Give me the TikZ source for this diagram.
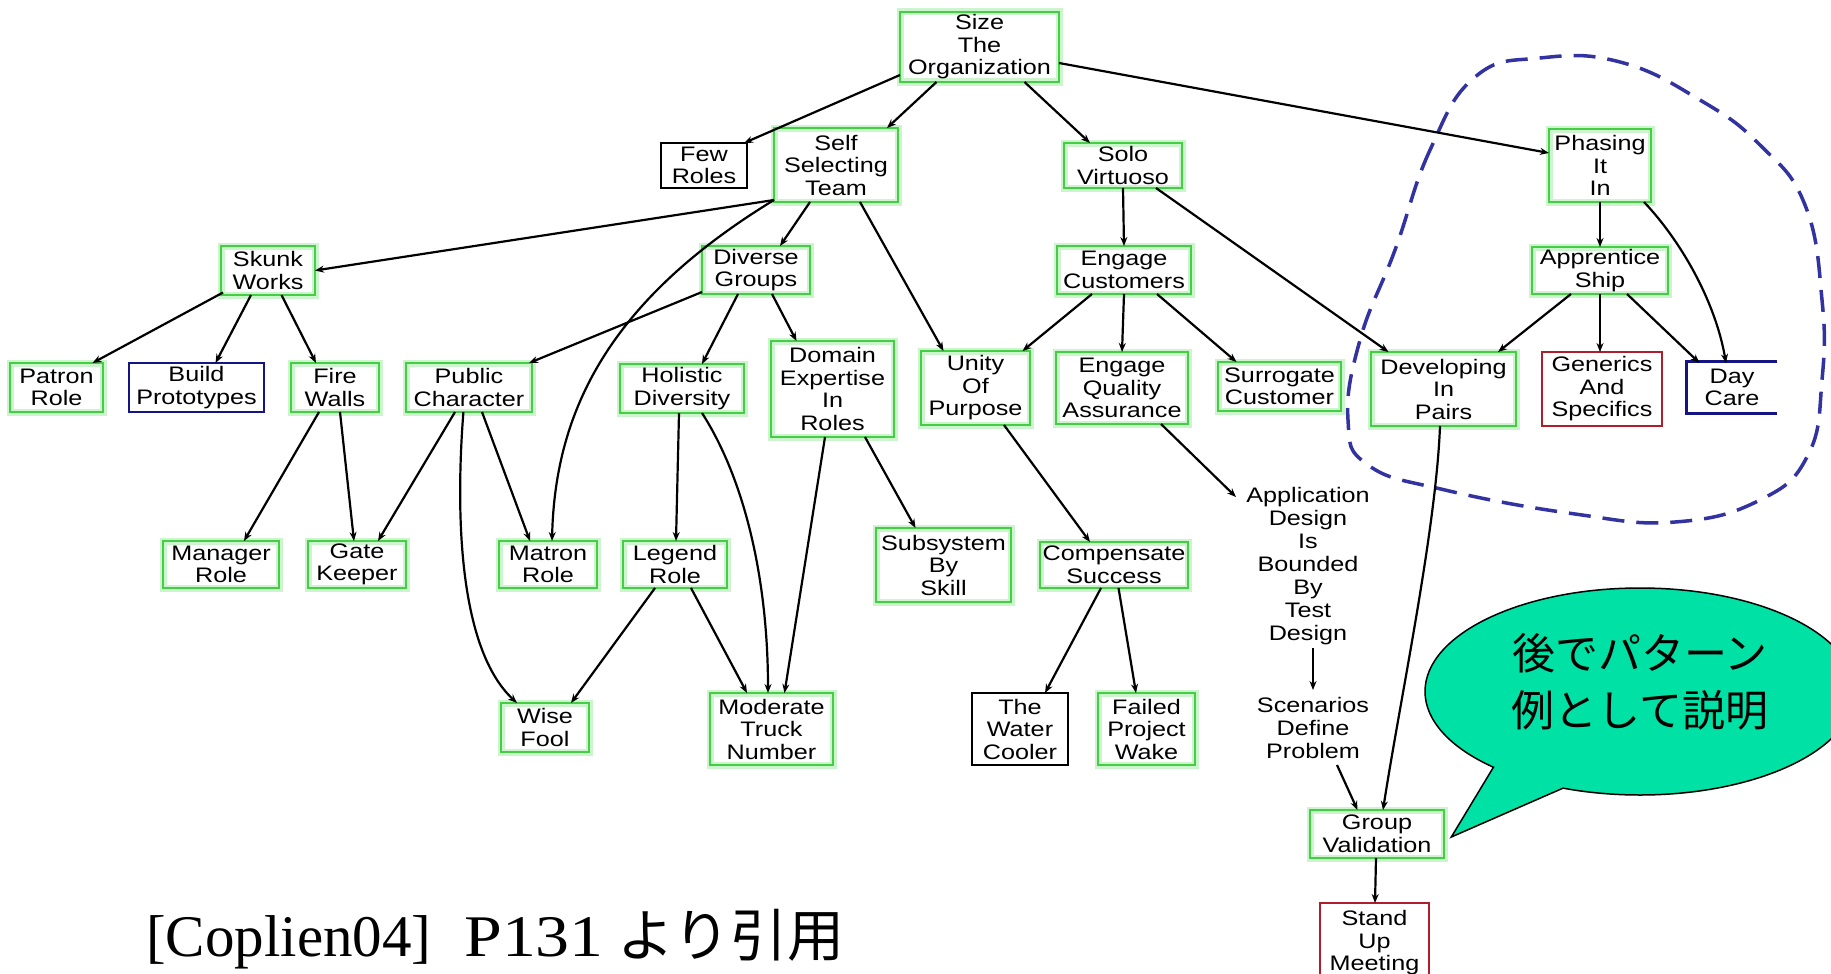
\documentclass[tikz,border=0pt]{standalone}
\usepackage{fontspec}
\usetikzlibrary{arrows.meta,calc,shapes.callouts,shapes.geometric}
\newfontfamily\nodefnt[FakeStretch=1.2]{Liberation Sans}
\newfontfamily\cjkfnt{Noto Sans CJK JP}
\newfontfamily\capfnt{Liberation Serif}
\newfontfamily\capfntw[FakeStretch=1.15]{Liberation Serif}
\definecolor{gbord}{RGB}{70,205,70}
\definecolor{ghalo}{RGB}{205,245,205}
\definecolor{nbord}{RGB}{20,20,130}
\definecolor{rbord}{RGB}{175,30,45}
\definecolor{blobc}{RGB}{50,50,160}
\definecolor{bubblec}{RGB}{0,226,165}
\newcommand\edg[4]{\draw[edge] ($(#1)+(#2)$) -- ($(#3)+(#4)$);}
\begin{document}
\begin{tikzpicture}[x=1pt,y=-1pt,
  box/.style={inner sep=0pt, align=center, font=\nodefnt\fontsize{21}{22.5}\selectfont, line width=2.6pt},
  gbox/.style={box, draw=gbord, preaction={draw=ghalo, line width=7pt}},
  kbox/.style={box, draw=black},
  nbox/.style={box, draw=nbord},
  rbox/.style={box, draw=rbord},
  plainbox/.style={inner sep=0pt, align=center, font=\nodefnt\fontsize{21}{23}\selectfont},
  edge/.style={line width=2.2pt, -{Stealth[length=9pt,width=7pt]}},
]
\fill[white] (0,0) rectangle (1831,974);
\useasboundingbox (0,0) rectangle (1831,974);

% dashed grouping blob
\draw[blobc, line width=3.5pt, dash pattern=on 22pt off 12pt]
  plot[smooth cycle, tension=0.75] coordinates {
  (1475,77) (1430,150) (1395,250) (1360,340) (1348,420) (1368,465)
  (1445,490) (1575,514) (1675,522) (1760,500) (1808,455) (1822,380)
  (1822,300) (1805,205) (1760,145) (1700,100) (1620,62) (1540,58)};

% nodes
\node[gbox, minimum width=159pt, minimum height=70pt] (size) at (979.5,47) {Size\\The\\Organization};
\node[kbox, minimum width=86pt, minimum height=45pt] (fr) at (704,165.5) {Few\\Roles};
\node[gbox, minimum width=124pt, minimum height=74pt] (sst) at (836,165) {Self\\Selecting\\Team};
\node[gbox, minimum width=118pt, minimum height=45pt] (solo) at (1123,165.5) {Solo\\Virtuoso};
\node[gbox, minimum width=102pt, minimum height=73pt] (phase) at (1600,165.5) {Phasing\\It\\In};
\node[gbox, minimum width=94pt, minimum height=49pt] (skunk) at (268,270.5) {Skunk\\Works};
\node[gbox, minimum width=108pt, minimum height=48pt] (dg) at (756,270) {Diverse\\Groups};
\node[gbox, minimum width=134pt, minimum height=48pt] (ec) at (1124,270) {Engage\\Customers};
\node[gbox, minimum width=136pt, minimum height=47pt] (app) at (1600,270.5) {Apprentice\\Ship};
\node[gbox, minimum width=93pt, minimum height=49pt] (patron) at (56.5,387.5) {Patron\\Role};
\node[nbox, minimum width=135pt, minimum height=49pt] (build) at (196.5,387.5) {Build\\Prototypes};
\node[gbox, minimum width=88pt, minimum height=49pt] (fw) at (335,387.5) {Fire\\Walls};
\node[gbox, minimum width=126pt, minimum height=49pt] (pc) at (469,387.5) {Public\\Character};
\node[gbox, minimum width=124pt, minimum height=49pt] (hd) at (682,388.5) {Holistic\\Diversity};
\node[gbox, minimum width=123pt, minimum height=96pt] (de) at (832.5,389) {Domain\\Expertise\\In\\Roles};
\node[gbox, minimum width=109pt, minimum height=74pt] (uop) at (975.5,388) {Unity\\Of\\Purpose};
\node[gbox, minimum width=132pt, minimum height=72pt] (eqa) at (1122,388) {Engage\\Quality\\Assurance};
\node[gbox, minimum width=123pt, minimum height=49pt] (sc) at (1279.5,386.5) {Surrogate\\Customer};
\node[gbox, minimum width=145pt, minimum height=74pt] (dip) at (1443.5,389) {Developing\\In\\Pairs};
\node[rbox, minimum width=120pt, minimum height=74pt] (gas) at (1602,389) {Generics\\And\\Specifics};
\node[box, minimum width=88pt, minimum height=49pt] (dc) at (1732,387.5) {Day\\Care};
\draw[nbord, line width=2.6pt] (dc.north east) -- (dc.north west) -- (dc.south west) -- (dc.south east);
\node[gbox, minimum width=116pt, minimum height=47pt] (mr) at (221,564.5) {Manager\\Role};
\node[gbox, minimum width=98pt, minimum height=47pt] (gk) at (357,564.5) {Gate\\Keeper};
\node[gbox, minimum width=98pt, minimum height=47pt] (matron) at (548,564.5) {Matron\\Role};
\node[gbox, minimum width=104pt, minimum height=47pt] (lr) at (675,564.5) {Legend\\Role};
\node[gbox, minimum width=135pt, minimum height=74pt] (sbs) at (943.5,565) {Subsystem\\By\\Skill};
\node[gbox, minimum width=148pt, minimum height=46pt] (cs) at (1114,565) {Compensate\\Success};
\node[plainbox] (ad) at (1308,566) {Application\\Design\\Is\\Bounded\\By\\Test\\Design};
\node[gbox, minimum width=88pt, minimum height=49pt] (wf) at (545,727.5) {Wise\\Fool};
\node[gbox, minimum width=123pt, minimum height=72pt] (mtn) at (771.5,729) {Moderate\\Truck\\Number};
\node[kbox, minimum width=96pt, minimum height=72pt] (twc) at (1020,729) {The\\Water\\Cooler};
\node[gbox, minimum width=97pt, minimum height=72pt] (fpw) at (1146.5,729) {Failed\\Project\\Wake};
\node[plainbox] (sdp) at (1313,728) {Scenarios\\Define\\Problem};
\node[gbox, minimum width=134pt, minimum height=48pt] (gv) at (1377,834) {Group\\Validation};
\node[rbox, minimum width=109pt, minimum height=80pt] (sum) at (1374.5,943) {Stand\\Up\\Meeting};

% connectors
\edg{size}{-79.5,28}{fr}{40,-22.5}
\edg{size}{-43,35}{sst}{51,-37}
\edg{size}{45,35}{solo}{-33,-22.5}
\edg{size}{79.5,16}{phase}{-51,-12.5}
\edg{sst}{-62,35}{skunk}{47,0}
\edg{sst}{-26,37}{dg}{24,-24}
\draw[edge] ($(sst)+(-62,35)$) .. controls (610,300) and (555,410) .. ($(matron)+(4,-23.5)$);
\edg{sst}{24,37}{uop}{-32,-37}
\edg{skunk}{-45,22}{patron}{36,-24.5}
\edg{skunk}{-17,24.5}{build}{19,-24.5}
\edg{skunk}{13.5,24.5}{fw}{-19,-24.5}
\edg{dg}{-54,22}{pc}{60,-24.5}
\edg{dg}{-18,24}{hd}{20,-24.5}
\edg{dg}{16,24}{de}{-36,-48}
\edg{pc}{-14,24.5}{gk}{21,-23.5}
\edg{pc}{13,24.5}{matron}{-18,-23.5}
\draw[edge] ($(pc)+(-5.6,24.5)$) .. controls (455,520) and (460,650) .. ($(wf)+(-28,-24.5)$);
\edg{fw}{-16,24.5}{mr}{23,-23.5}
\edg{fw}{5,24.5}{gk}{-3,-23.5}
\edg{hd}{-3,24.5}{lr}{1,-23.5}
\draw[edge] ($(hd)+(20,24.5)$) .. controls (745,480) and (768,580) .. ($(mtn)+(-3.5,-36)$);
\edg{de}{-7.5,48}{mtn}{13,-36}
\edg{de}{32.5,48}{sbs}{-28,-37}
\edg{lr}{-20,23.5}{wf}{26,-24.5}
\edg{lr}{16,23.5}{mtn}{-24.5,-36}
\edg{solo}{0,22.5}{ec}{0,-24}
\edg{solo}{33,22.5}{dip}{-55,-37}
\edg{ec}{-32,24}{uop}{47,-37}
\edg{ec}{0,24}{eqa}{0,-36}
\edg{ec}{33,24}{sc}{-43,-24.5}
\edg{uop}{28.5,37}{cs}{-24,-23}
\edg{eqa}{39,36}{ad}{-72,-69}
\edg{cs}{-13,23}{twc}{25,-36}
\edg{cs}{4.5,23}{fpw}{-10.5,-36}
\edg{ad}{5,82}{sdp}{0,-38}
\edg{sdp}{24,37}{gv}{-19.5,-24}
\draw[edge] ($(dip)+(-3.5,37)$) .. controls (1436,530) and (1400,700) .. ($(gv)+(6,-24)$);
\edg{gv}{-1,24}{sum}{0.5,-40}
\edg{phase}{0,36.5}{app}{0,-23.5}
\draw[edge] ($(phase)+(44,36.5)$) .. controls (1680,240) and (1715,300) .. ($(dc)+(-6,-24.5)$);
\edg{app}{-29,23.5}{dip}{54.5,-37}
\edg{app}{0,23.5}{gas}{-2,-37}
\edg{app}{27,23.5}{dc}{-32.5,-24.5}

% callout bubble
\node[ellipse callout, draw=black, line width=1.5pt, fill=bubblec, minimum width=430pt, minimum height=207pt, inner sep=0pt,
  callout absolute pointer={($(gv.east)+(6,3)$)}, callout pointer arc=22] (bub) at (1640,691.5) {};
\node[align=center, inner sep=0pt, font=\cjkfnt\fontsize{43}{57}\selectfont] (bubt) at (1640,682) {後でパターン\\例として説明};

% caption
\node[anchor=base west, inner sep=0pt] (cap) at (146,956) {\capfnt\fontsize{59}{62}\selectfont [Coplien04]\hspace{33pt}{\capfntw P131}\hspace{14pt}{\cjkfnt\fontsize{57}{62}\selectfont より引用}};
\end{tikzpicture}
\end{document}
